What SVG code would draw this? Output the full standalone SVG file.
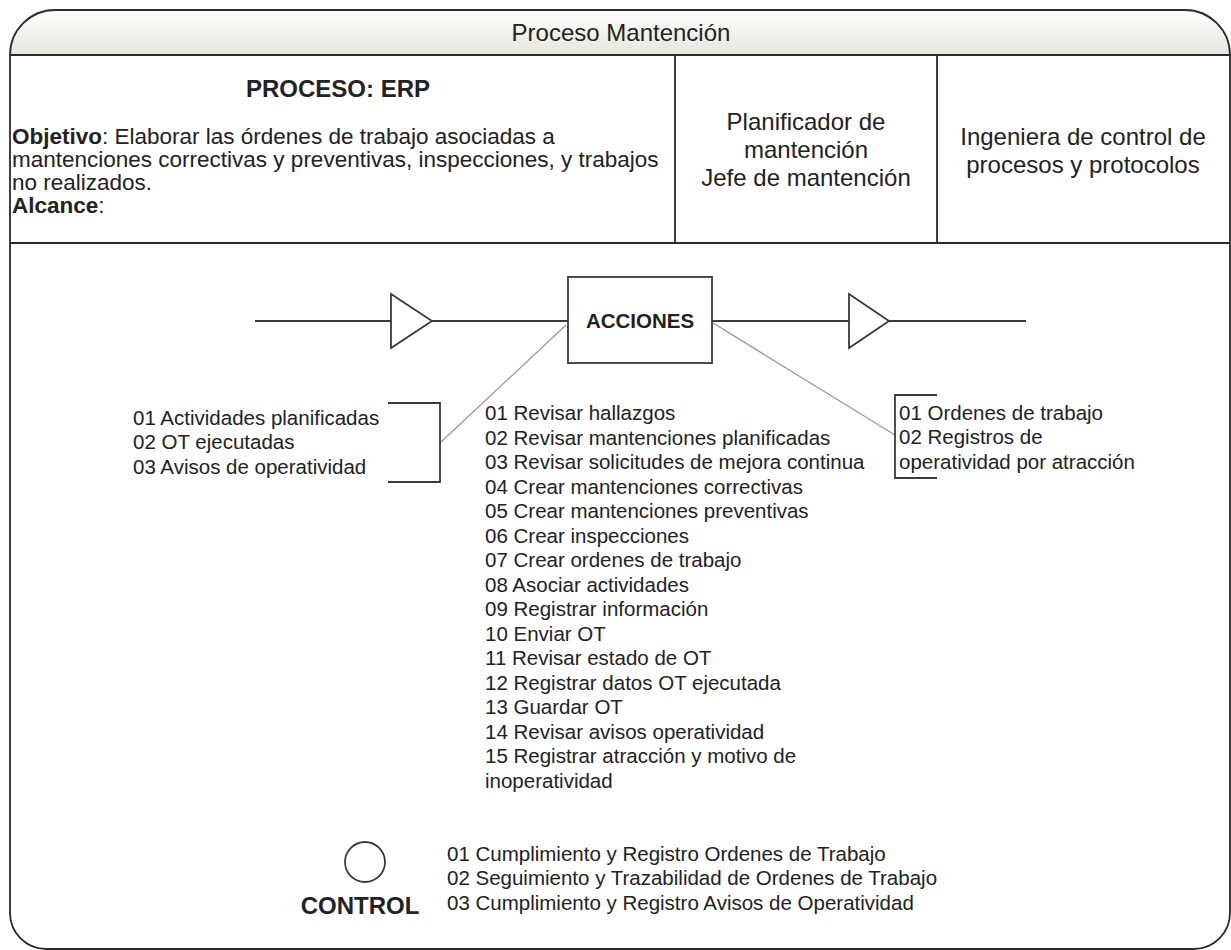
<svg xmlns="http://www.w3.org/2000/svg" width="1231" height="950" viewBox="0 0 1231 950">
<defs>
<linearGradient id="hdr" x1="0" y1="0" x2="0" y2="1">
<stop offset="0" stop-color="#ffffff"/>
<stop offset="1" stop-color="#e6e6de"/>
</linearGradient>
<style>
text{font-family:"Liberation Sans",Arial,sans-serif;fill:#222;}
.h{font-size:24px;}
.o{font-size:22.5px;}
.t{font-size:20.5px;}
.b{font-weight:bold;}
.c{text-anchor:middle;}
.frame{fill:none;stroke:#2a2a2a;stroke-width:1.8;}
.ln{fill:none;stroke:#3a3a3a;stroke-width:1.8;}
.gray{fill:none;stroke:#9a9a9a;stroke-width:1.3;}
</style>
</defs>
<rect width="1231" height="950" fill="#fff"/>
<g id="frame">
<path d="M10,55 A45,45 0 0 1 55,10 H1185 A45,45 0 0 1 1230,55 Z" fill="url(#hdr)"/>
<path class="frame" d="M10,55 A45,45 0 0 1 55,10 H1185 A45,45 0 0 1 1230,55 V913 A36,36 0 0 1 1194,949 H46 A36,36 0 0 1 10,913 Z"/>
<line class="frame" x1="10" y1="55" x2="1230" y2="55"/>
<line class="frame" x1="10" y1="243" x2="1230" y2="243"/>
<line class="frame" x1="675" y1="55" x2="675" y2="243"/>
<line class="frame" x1="937" y1="55" x2="937" y2="243"/>
<text class="h c" x="621" y="40.5">Proceso Mantención</text>
</g>
<g id="process-info">
<text class="h b c" x="338" y="97">PROCESO: ERP</text>
<text class="o" x="12" y="144"><tspan class="b">Objetivo</tspan>: Elaborar las  órdenes de trabajo asociadas a</text>
<text class="o" x="12" y="167">mantenciones correctivas y preventivas, inspecciones, y trabajos</text>
<text class="o" x="12" y="190">no realizados.</text>
<text class="o" x="12" y="213"><tspan class="b">Alcance</tspan>:</text>
</g>
<g id="roles-1">
<text class="h c" x="806" y="130">Planificador de</text>
<text class="h c" x="806" y="158">mantención</text>
<text class="h c" x="806" y="186">Jefe de mantención</text>
</g>
<g id="roles-2">
<text class="h c" x="1083" y="145">Ingeniera de control de</text>
<text class="h c" x="1083" y="173">procesos y protocolos</text>
</g>
<g id="connectors">
<line class="ln" x1="255" y1="321" x2="391" y2="321"/>
<line class="ln" x1="432" y1="321" x2="568" y2="321"/>
<line class="ln" x1="712" y1="321" x2="849" y2="321"/>
<line class="ln" x1="889" y1="321" x2="1026" y2="321"/>
<line class="gray" x1="566" y1="325" x2="441" y2="442"/>
<line class="gray" x1="713" y1="323" x2="895" y2="435"/>
</g>
<g id="input-triangle"><polygon class="ln" points="391,294 432,321 391,348" fill="#fff"/></g>
<g id="output-triangle"><polygon class="ln" points="849,294 889,321 849,348" fill="#fff"/></g>
<g id="acciones">
<rect class="ln" x="568" y="277" width="144" height="86" fill="#fff"/>
<text class="t b c" x="640" y="328">ACCIONES</text>
</g>
<g id="inputs">
<path class="ln" d="M388,403 H440 V482 H388"/>
<text class="t" x="133" y="424.5">01 Actividades planificadas</text>
<text class="t" x="133" y="449">02 OT ejecutadas</text>
<text class="t" x="133" y="473.5">03 Avisos de operatividad</text>
</g>
<g id="outputs">
<path class="ln" d="M937,395 H895 V478 H937"/>
<text class="t" x="899" y="419.5">01 Ordenes de trabajo</text>
<text class="t" x="899" y="444">02 Registros de</text>
<text class="t" x="899" y="468.5">operatividad por atracción</text>
</g>
<g id="actions-list">
<text class="t" x="485" y="420.3">01 Revisar hallazgos</text>
<text class="t" x="485" y="444.8">02 Revisar mantenciones planificadas</text>
<text class="t" x="485" y="469.3">03 Revisar solicitudes de mejora continua</text>
<text class="t" x="485" y="493.8">04 Crear mantenciones correctivas</text>
<text class="t" x="485" y="518.3">05 Crear mantenciones preventivas</text>
<text class="t" x="485" y="542.8">06 Crear inspecciones</text>
<text class="t" x="485" y="567.3">07 Crear ordenes de trabajo</text>
<text class="t" x="485" y="591.8">08 Asociar actividades</text>
<text class="t" x="485" y="616.3">09 Registrar información</text>
<text class="t" x="485" y="640.8">10 Enviar OT</text>
<text class="t" x="485" y="665.3">11 Revisar estado de OT</text>
<text class="t" x="485" y="689.8">12 Registrar datos OT ejecutada</text>
<text class="t" x="485" y="714.3">13 Guardar OT</text>
<text class="t" x="485" y="738.8">14 Revisar avisos operatividad</text>
<text class="t" x="485" y="763.3">15 Registrar atracción y motivo de</text>
<text class="t" x="485" y="787.8">inoperatividad</text>
</g>
<g id="control">
<circle class="ln" cx="365" cy="862" r="20" fill="#fff"/>
<text class="h b c" x="360" y="914">CONTROL</text>
<text class="t" x="447" y="860.5">01 Cumplimiento y Registro Ordenes de Trabajo</text>
<text class="t" x="447" y="885">02 Seguimiento y Trazabilidad de Ordenes de Trabajo</text>
<text class="t" x="447" y="909.5">03 Cumplimiento y Registro Avisos de Operatividad</text>
</g>
</svg>
